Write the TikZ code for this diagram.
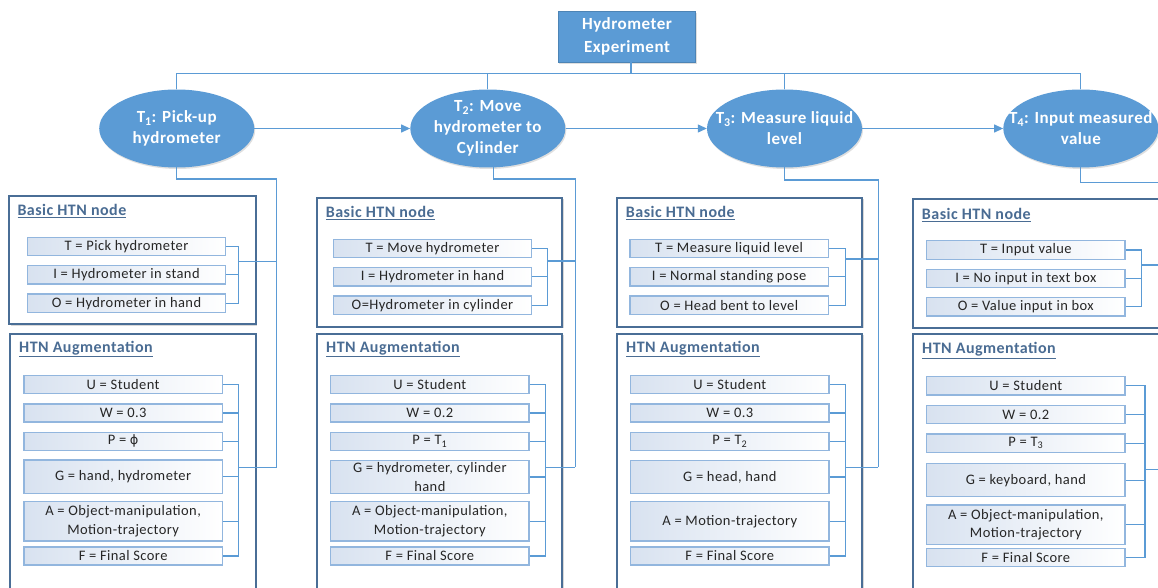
\documentclass[tikz,border=0pt]{standalone}
\usepackage{fontspec}
\setmainfont{Carlito}[LetterSpace=3]
\newfontfamily\symfont{DejaVu Sans}
\usetikzlibrary{arrows.meta,shapes.geometric,shadows}
\definecolor{mainblue}{HTML}{5B9BD5}
\definecolor{lineblue}{HTML}{5B9BD5}
\definecolor{boxline}{HTML}{4A6E96}
\definecolor{titlecol}{HTML}{4A6C93}
\definecolor{fieldline}{HTML}{92B6DE}
\definecolor{fieldfill}{HTML}{D8E2F0}
\definecolor{fieldtext}{HTML}{262626}
\newcommand{\fld}[6]{\node[field, minimum width={(#4-#2)*1pt}, minimum height={(#5-#3)*1pt}] (#1) at ({(#2+#4)/2},{(#3+#5)/2}) {#6};}
\newcommand{\obox}[5]{\node[outerbox, minimum width={(#4-#2)*1pt}, minimum height={(#5-#3)*1pt}] (#1) at ({(#2+#4)/2},{(#3+#5)/2}) {};}
\tikzset{
  conn/.style={draw=lineblue, line width=1.2pt},
  arr/.style={conn, -{Triangle[length=9pt,width=8pt]}},
  taskell/.style={ellipse, fill=mainblue, draw=none, minimum width=155pt, minimum height=78pt, inner sep=0pt,
     drop shadow={opacity=0.25, shadow xshift=1pt, shadow yshift=-1.5pt}},
  tasktext/.style={text=white, font=\fontsize{17}{21}\selectfont\bfseries, align=center, inner sep=0pt},
  rootbox/.style={rectangle, fill=mainblue, draw=mainblue!85!black, line width=0.6pt, text=white,
     font=\fontsize{17}{23}\selectfont\bfseries, align=center, inner sep=0pt,
     drop shadow={opacity=0.25, shadow xshift=1pt, shadow yshift=-1.5pt}},
  outerbox/.style={rectangle, draw=boxline, line width=2pt, fill=white, inner sep=0pt,
     drop shadow={opacity=0.3, shadow xshift=1.5pt, shadow yshift=-1.5pt}},
  boxtitle/.style={anchor=west, text=titlecol, font=\fontsize{16}{19}\selectfont\bfseries, inner sep=0pt},
  field/.style={rectangle, draw=fieldline, line width=1.1pt, left color=fieldfill, right color=white,
     text=fieldtext, font=\fontsize{14.5}{18.5}\selectfont, align=center, inner sep=0pt}
}
\begin{document}
\begin{tikzpicture}[x=1pt,y=-1pt]
\clip (0,0) rectangle (1158,588);
\fill[white] (0,0) rectangle (1158,588);

% root
\node[rootbox, minimum width=137.4pt, minimum height=51.3pt] (root) at (627,36.7) {Hydrometer\\Experiment};
\coordinate (rs) at (631,62.3);
\coordinate (bus) at (631,73.8);

% tasks
\node[taskell, label={[tasktext]center:{T\textsubscript{1}: Pick-up\\hydrometer}}] (T1) at (176.7,128.5) {};
\node[taskell, label={[tasktext]center:{T\textsubscript{2}: Move\\hydrometer to\\Cylinder}}] (T2) at (487.8,128.5) {};
\node[taskell, label={[tasktext]center:{T\textsubscript{3}: Measure liquid\\level}}] (T3) at (784.5,128.5) {};
\node[taskell, label={[tasktext]center:{T\textsubscript{4}: Input measured\\value}}] (T4) at (1080.8,128.5) {};

% ---------- column 1 ----------
\obox{c1b}{9}{195.7}{255.5}{324}
\node[boxtitle] (c1bt) at (17.3,211) {\underline{Basic HTN node}};
\fld{c1T}{27.3}{237.3}{225.7}{255.7}{T = Pick hydrometer}
\fld{c1I}{27.3}{265.7}{225.7}{284}{I = Hydrometer in stand}
\fld{c1O}{27.3}{294}{225.7}{312.3}{O = Hydrometer in hand}
\obox{c1a}{10}{333.7}{255.7}{600}
\node[boxtitle] (c1at) at (19,349) {\underline{HTN Augmentation}};
\fld{c1U}{24}{375.7}{222.3}{393.3}{U = Student}
\fld{c1W}{24}{404}{222.3}{422}{W = 0.3}
\fld{c1P}{24}{432.3}{222.3}{450.3}{P = {\symfont\fontsize{13}{18}\selectfont ϕ}}
\fld{c1G}{24}{460}{222.3}{493.7}{G = hand, hydrometer}
\fld{c1A}{24}{501.7}{222.3}{541}{A = Object-manipulation,\\Motion-trajectory}
\fld{c1F}{24}{547}{222.3}{565}{F = Final Score}
\coordinate (c1bx) at (238.3,261.7);
\coordinate (c1ax) at (238.3,467.3);
\coordinate (c1v) at (276.7,179);
\coordinate (c1s) at (176.7,167);

% ---------- column 2 ----------
\obox{c2b}{316.7}{197.7}{562}{326.7}
\node[boxtitle] (c2bt) at (325.7,213.3) {\underline{Basic HTN node}};
\fld{c2T}{333.3}{239.3}{531.7}{257.7}{T = Move hydrometer}
\fld{c2I}{333.3}{267.7}{531.7}{286}{I = Hydrometer in hand}
\fld{c2O}{333.3}{296}{531.7}{314.7}{O=Hydrometer in cylinder}
\obox{c2a}{317.3}{333.7}{562.3}{600}
\node[boxtitle] (c2at) at (326,349) {\underline{HTN Augmentation}};
\fld{c2U}{330.7}{375.7}{529}{393.3}{U = Student}
\fld{c2W}{330.7}{404}{529}{422}{W = 0.2}
\fld{c2P}{330.7}{432.3}{529}{450.3}{P = T\textsubscript{1}}
\fld{c2G}{330.7}{460.3}{529}{493.7}{G = hydrometer, cylinder\\hand}
\fld{c2A}{330.7}{501.7}{529}{541}{A = Object-manipulation,\\Motion-trajectory}
\fld{c2F}{330.7}{547}{529}{565}{F = Final Score}
\coordinate (c2bx) at (547.3,261);
\coordinate (c2ax) at (545.3,467.3);
\coordinate (c2v) at (575.3,179);
\coordinate (c2s) at (493.3,167);

% ---------- column 3 ----------
\obox{c3b}{616.7}{197.7}{862}{326.7}
\node[boxtitle] (c3bt) at (625.7,213.3) {\underline{Basic HTN node}};
\fld{c3T}{630}{239.3}{828.3}{257.7}{T = Measure liquid level}
\fld{c3I}{630}{267.7}{828.3}{286}{I = Normal standing pose}
\fld{c3O}{630}{296}{828.3}{314.7}{O = Head bent to level}
\obox{c3a}{617}{333.7}{862}{600}
\node[boxtitle] (c3at) at (626,349) {\underline{HTN Augmentation}};
\fld{c3U}{630.7}{375.7}{829}{393.3}{U = Student}
\fld{c3W}{630.7}{404}{829}{422}{W = 0.3}
\fld{c3P}{630.7}{432.3}{829}{450.3}{P = T\textsubscript{2}}
\fld{c3G}{630.7}{460.3}{829}{493.7}{G = head, hand}
\fld{c3A}{630.7}{501.7}{829}{541}{A = Motion-trajectory}
\fld{c3F}{630.7}{547}{829}{565}{F = Final Score}
\coordinate (c3bx) at (845.7,259);
\coordinate (c3ax) at (845.3,467.3);
\coordinate (c3v) at (878.3,180);
\coordinate (c3s) at (784.5,167);

% ---------- column 4 ----------
\obox{c4b}{912.7}{199.3}{1160}{327.7}
\node[boxtitle] (c4bt) at (921.7,215) {\underline{Basic HTN node}};
\fld{c4T}{926.7}{240.7}{1125}{259.3}{T = Input value}
\fld{c4I}{926.7}{269.3}{1125}{287.7}{I = No input in text box}
\fld{c4O}{926.7}{297.7}{1125}{316}{O = Value input in box}
\obox{c4a}{913.3}{334.3}{1160}{600}
\node[boxtitle] (c4at) at (922,350.7) {\underline{HTN Augmentation}};
\fld{c4U}{926.7}{376.7}{1125}{395}{U = Student}
\fld{c4W}{926.7}{405.7}{1125}{423.7}{W = 0.2}
\fld{c4P}{926.7}{434}{1125}{452.3}{P = T\textsubscript{3}}
\fld{c4G}{926.7}{463.7}{1125}{496.7}{G = keyboard, hand}
\fld{c4A}{926.7}{505}{1125}{544.3}{A = Object-manipulation,\\Motion-trajectory}
\fld{c4F}{926.7}{548.3}{1125}{566.7}{F = Final Score}
\coordinate (c4bx) at (1141.7,265);
\coordinate (c4ax) at (1145,469.3);
\coordinate (c4v) at (1170,182.7);
\coordinate (c4s) at (1080.8,167);

% ---------- connectors ----------
\draw[conn] (rs) -- (bus);
\draw[conn] (T1.north) -- (T1.north |- bus) -- (T4.north |- bus) -- (T4.north);
\draw[conn] (T2.north |- bus) -- (T2.north);
\draw[conn] (T3.north |- bus) -- (T3.north);
\draw[arr] (T1.east) -- (T2.west);
\draw[arr] (T2.east) -- (T3.west);
\draw[arr] (T3.east) -- (T4.west);

\foreach \c in {c1,c2,c3,c4}{
  \draw[conn] (\c T.east) -- (\c T.east -| \c bx) |- (\c O.east);
  \draw[conn] (\c I.east) -- (\c I.east -| \c bx);
  \draw[conn] (\c U.east) -- (\c U.east -| \c ax) |- (\c F.east);
  \foreach \f in {W,P,G,A}{
    \draw[conn] (\c\f.east) -- (\c\f.east -| \c ax);
  }
  \draw[conn] (\c bx) -- (\c bx -| \c v);
  \draw[conn] (\c ax) -- (\c ax -| \c v);
  \draw[conn] (\c s) -- (\c s |- \c v) -- (\c v) -- (\c v |- \c ax);
}
\end{tikzpicture}
\end{document}
